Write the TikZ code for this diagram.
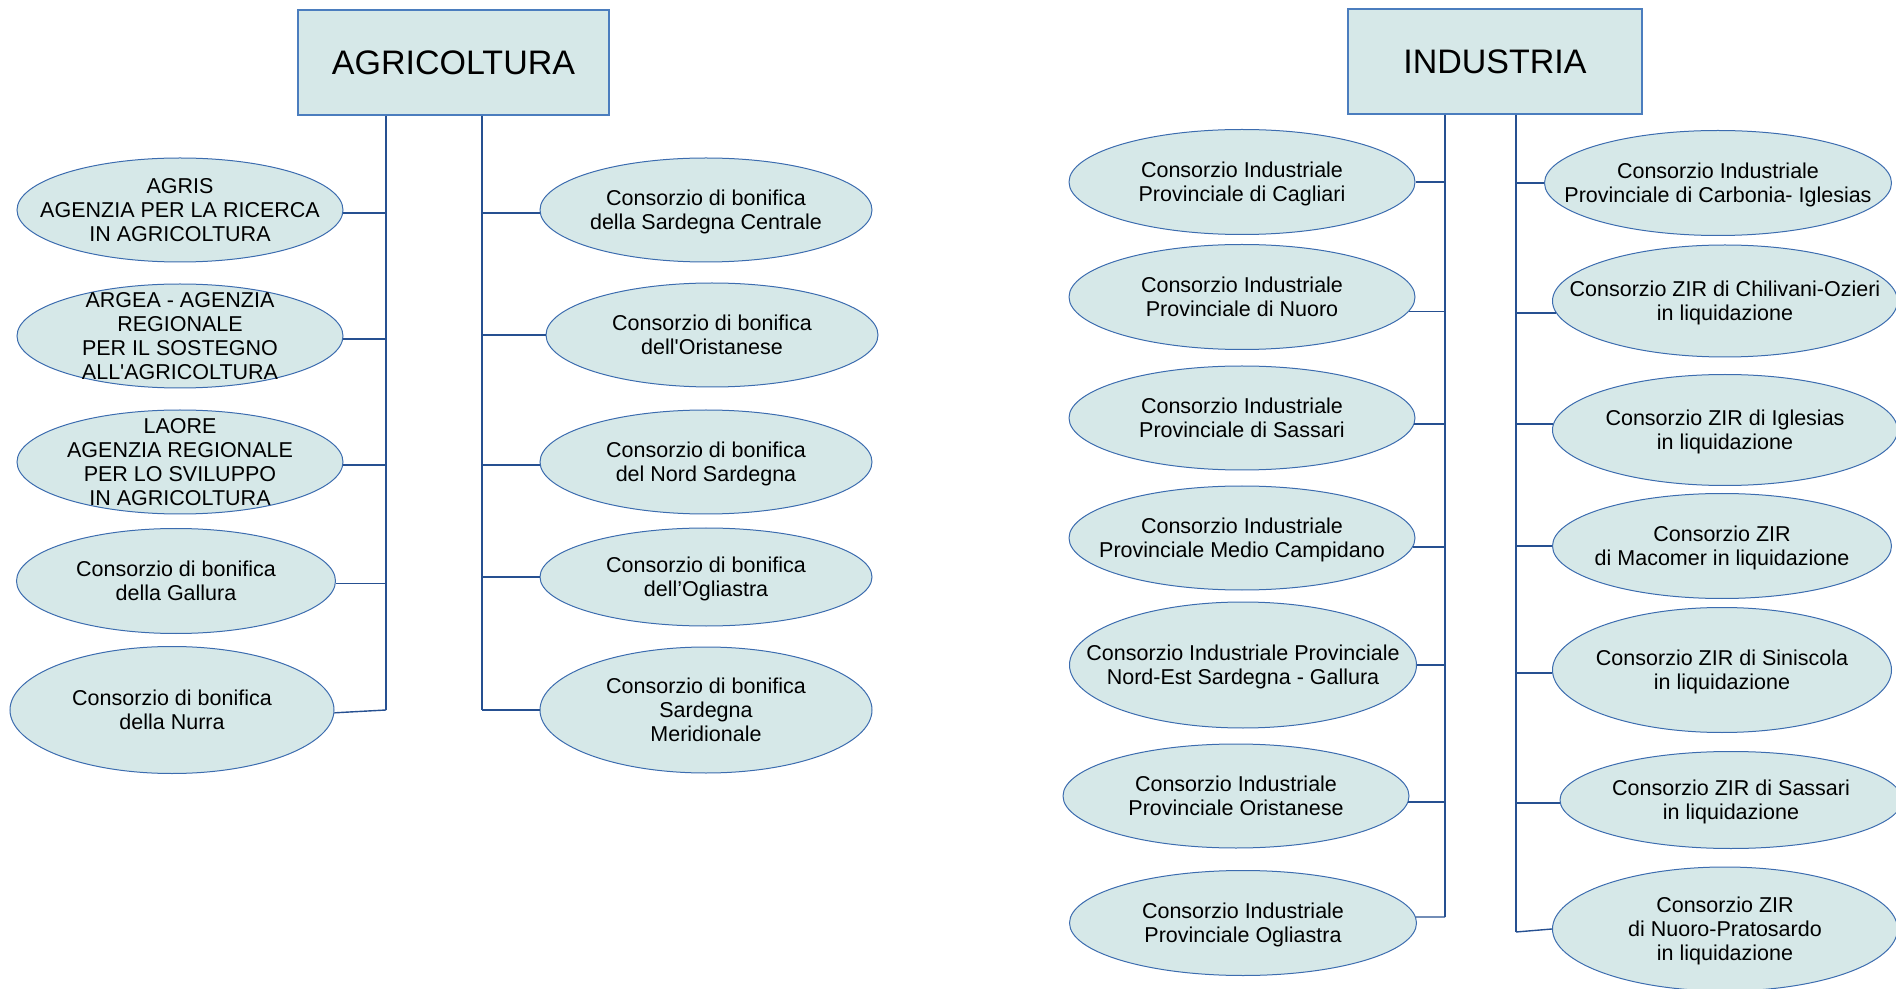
\documentclass[tikz,border=0pt]{standalone}
\usepackage{fontspec}
\setmainfont{Liberation Sans}
\usetikzlibrary{shapes.geometric}

\definecolor{riemp}{RGB}{214,232,232}
\definecolor{elbordo}{RGB}{60,108,175}
\definecolor{boxbordo}{RGB}{75,125,190}
\definecolor{linea}{RGB}{38,80,145}

\begin{document}
\begin{tikzpicture}[x=0.5pt, y=-0.5pt,
    testata/.style={draw=boxbordo, fill=riemp, line width=0.6pt, inner sep=0pt, font=\fontsize{17}{20}\selectfont},
    ente/.style={ellipse, draw=elbordo, fill=riemp, line width=0.5pt, inner sep=-150pt, text depth=0pt, align=center, font=\fontsize{10.75}{12.1}\selectfont},
    ell/.style 2 args={minimum width=#1*0.5pt, minimum height=#2*0.5pt},
    tronco/.style={draw=linea, line width=1pt},
    ramo/.style={draw=linea, line width=0.7pt}]
    \useasboundingbox (0,0) rectangle (1896,989);

    % testate
    \node [testata, ell={311}{105}] (agri) at (453.5,62.5) {AGRICOLTURA};
    \node [testata, ell={294}{105}] (indu) at (1495,61.5) {INDUSTRIA};

    % agricoltura, colonna sinistra
    \node [ente, ell={326}{104}] (agris) at (180,210) {AGRIS\\AGENZIA PER LA RICERCA\\IN AGRICOLTURA};
    \node [ente, ell={326}{104}] (argea) at (180,336) {ARGEA - AGENZIA\\REGIONALE\\PER IL SOSTEGNO\\ ALL\textquotesingle AGRICOLTURA};
    \node [ente, ell={326}{104}] (laore) at (180,462) {LAORE\\AGENZIA REGIONALE\\PER LO SVILUPPO\\ IN AGRICOLTURA};
    \node [ente, ell={319}{105}] (gallura) at (176,581) {Consorzio di bonifica\\della Gallura};
    \node [ente, ell={324}{127}] (nurra) at (172,710) {Consorzio di bonifica\\della Nurra};

    % agricoltura, colonna destra
    \node [ente, ell={332}{104}] (centrale) at (706,210) {Consorzio di bonifica\\della Sardegna Centrale};
    \node [ente, ell={332}{104}] (oristano) at (712,335) {Consorzio di bonifica\\ dell\textquotesingle Oristanese};
    \node [ente, ell={332}{104}] (nordsard) at (706,462) {Consorzio di bonifica\\ del Nord Sardegna};
    \node [ente, ell={332}{98}] (ogliastra) at (706,577) {Consorzio di bonifica\\dell’Ogliastra};
    \node [ente, ell={332}{126}] (meridion) at (706,710) {Consorzio di bonifica\\Sardegna\\Meridionale};

    % industria, colonna sinistra
    \node [ente, ell={346}{105}] (cagliari) at (1242,182) {Consorzio Industriale\\ Provinciale di Cagliari};
    \node [ente, ell={346}{105}] (nuoro) at (1242,297) {Consorzio Industriale\\ Provinciale di Nuoro};
    \node [ente, ell={346}{104}] (sassari) at (1242,418) {Consorzio Industriale\\ Provinciale di Sassari};
    \node [ente, ell={346}{104}] (campidano) at (1242,538) {Consorzio Industriale\\Provinciale Medio Campidano};
    \node [ente, ell={347}{126}] (nordest) at (1243,665) {Consorzio Industriale Provinciale\\Nord-Est Sardegna - Gallura};
    \node [ente, ell={346}{104}] (oristind) at (1236,796) {Consorzio Industriale\\Provinciale Oristanese};
    \node [ente, ell={347}{105}] (ogliind) at (1243,923) {Consorzio Industriale\\ Provinciale Ogliastra};

    % industria, colonna destra
    \node [ente, ell={347}{105}] (carbonia) at (1718,183) {Consorzio Industriale\\Provinciale di Carbonia- Iglesias};
    \node [ente, ell={345}{112}] (chilivani) at (1725,301) {Consorzio ZIR di Chilivani-Ozieri\\in liquidazione};
    \node [ente, ell={345}{111}] (iglesias) at (1725,430) {Consorzio ZIR di Iglesias\\in liquidazione};
    \node [ente, ell={339}{105}] (macomer) at (1722,546) {Consorzio ZIR\\di Macomer in liquidazione};
    \node [ente, ell={339}{125}] (siniscola) at (1722,670) {Consorzio ZIR di Siniscola\\in liquidazione};
    \node [ente, ell={342}{97}] (zirsassari) at (1731,800) {Consorzio ZIR di Sassari\\in liquidazione};
    \node [ente, ell={345}{124}] (pratosardo) at (1725,929) {Consorzio ZIR\\di Nuoro-Pratosardo\\in liquidazione};

    % fine dei tronchi
    \coordinate (agriL) at (386,710);
    \coordinate (agriR) at (482,710);
    \coordinate (induL) at (1445,917);
    \coordinate (induR) at (1516,932);

    \draw [tronco] (agri.south -| agriL) -- (agriL);
    \draw [tronco] (agri.south -| agriR) -- (agriR);
    \draw [tronco] (indu.south -| induL) -- (induL);
    \draw [tronco] (indu.south -| induR) -- (induR);

    % rami agricoltura
    \draw [ramo] (agris.-1) -- (agris.-1 -| agriL);
    \draw [ramo] (argea.-1) -- (argea.-1 -| agriL);
    \draw [ramo] (laore.-1) -- (laore.-1 -| agriL);
    \draw [ramo] (gallura.-1) -- (gallura.-1 -| agriL);
    \draw [ramo] (nurra.-1) -- (agriL);
    \draw [ramo] (centrale.181) -- (centrale.181 -| agriR);
    \draw [ramo] (oristano.west) -- (oristano.west -| agriR);
    \draw [ramo] (nordsard.181) -- (nordsard.181 -| agriR);
    \draw [ramo] (ogliastra.west) -- (ogliastra.west -| agriR);
    \draw [ramo] (meridion.west) -- (agriR);

    % rami industria
    \draw [ramo] (cagliari.east) -- (cagliari.east -| induL);
    \draw [ramo] (nuoro.-5) -- (nuoro.-5 -| induL);
    \draw [ramo] (sassari.-2) -- (sassari.-2 -| induL);
    \draw [ramo] (campidano.-3) -- (campidano.-3 -| induL);
    \draw [ramo] (nordest.east) -- (nordest.east -| induL);
    \draw [ramo] (oristind.-2) -- (oristind.-2 -| induL);
    \draw [ramo] (ogliind.2) -- (induL);
    \draw [ramo] (carbonia.west) -- (carbonia.west -| induR);
    \draw [ramo] (chilivani.184) -- (chilivani.184 -| induR);
    \draw [ramo] (iglesias.178) -- (iglesias.178 -| induR);
    \draw [ramo] (macomer.west) -- (macomer.west -| induR);
    \draw [ramo] (siniscola.181) -- (siniscola.181 -| induR);
    \draw [ramo] (zirsassari.181) -- (zirsassari.181 -| induR);
    \draw [ramo] (pratosardo.west) -- (induR);
\end{tikzpicture}
\end{document}
